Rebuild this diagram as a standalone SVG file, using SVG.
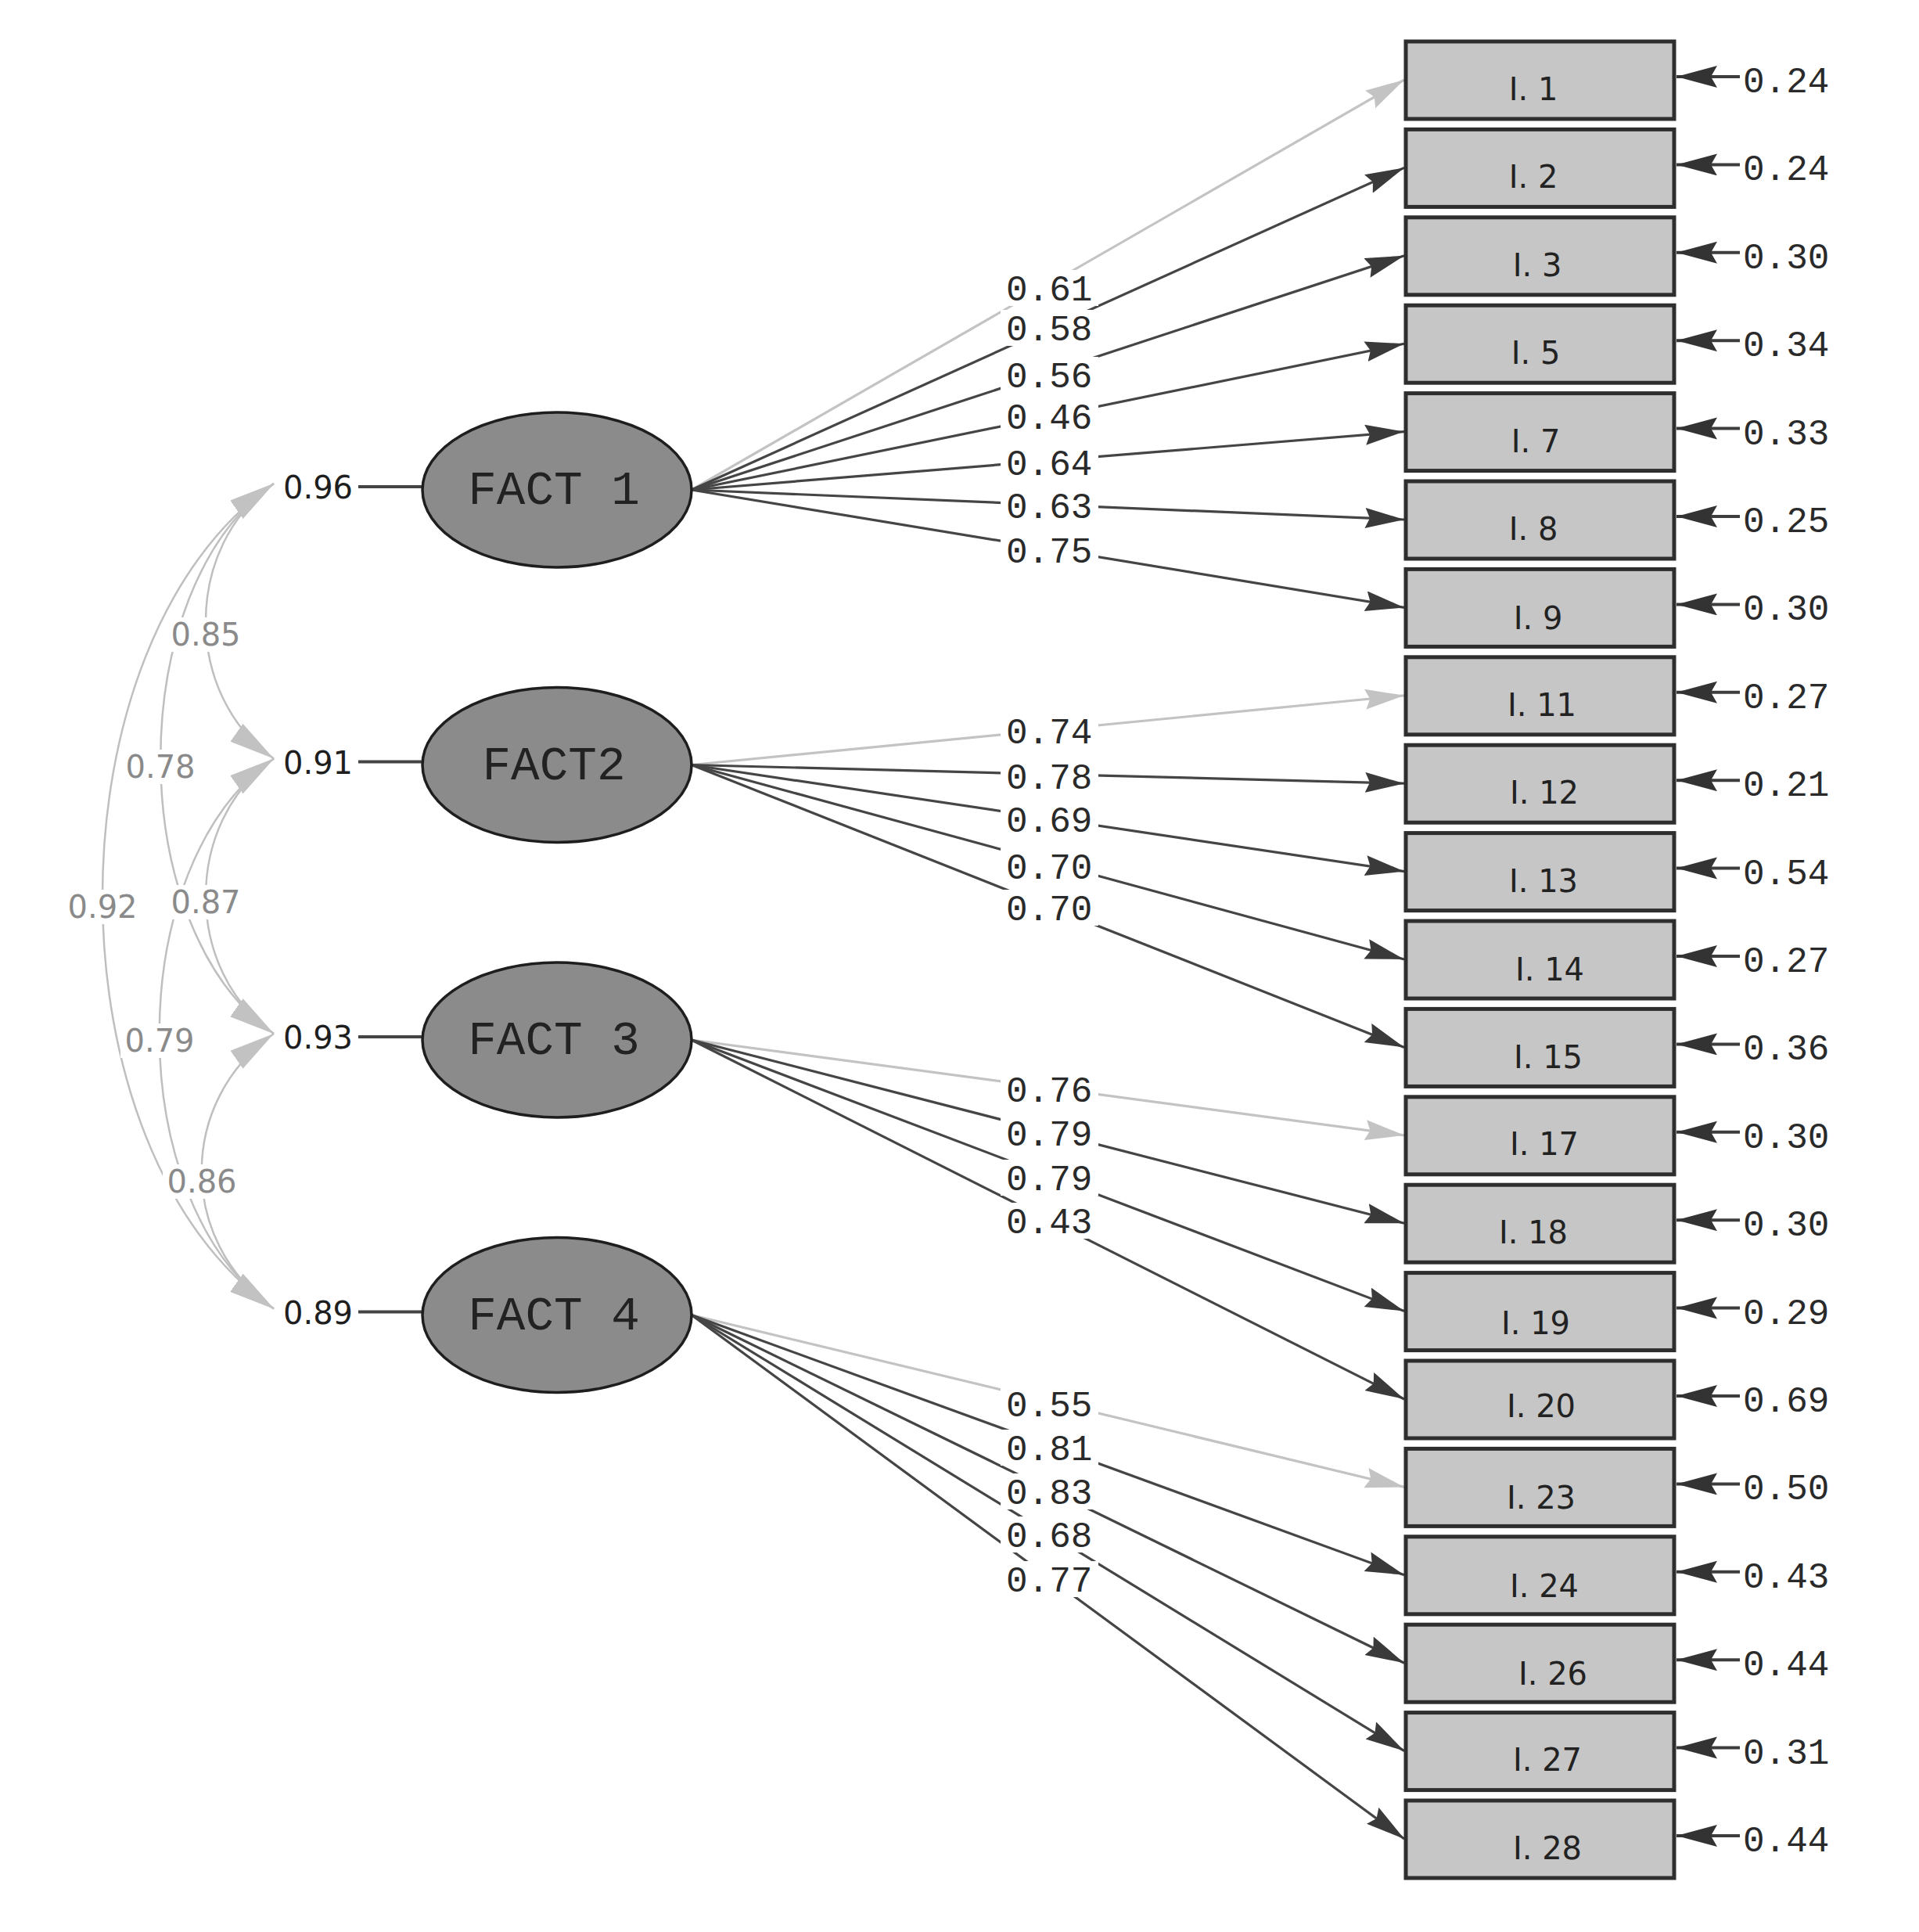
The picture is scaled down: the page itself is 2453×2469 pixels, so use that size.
<svg xmlns="http://www.w3.org/2000/svg" width="2453" height="2469" viewBox="0 0 2453 2469">
<style>
.lat{fill:#8b8b8b;stroke:#1e1e1e;stroke-width:3.5}
.obs{fill:#c6c6c6;stroke:#2e2e2e;stroke-width:5}
.ld{stroke:#454545;stroke-width:3.2;fill:none;marker-end:url(#ad)}
.lg{stroke:#c3c3c3;stroke-width:3.2;fill:none;marker-end:url(#ag)}
.cv{stroke:#bfbfbf;stroke-width:2.5;fill:none;marker-start:url(#ac);marker-end:url(#ac)}
.err{stroke:#3d3d3d;stroke-width:4;marker-end:url(#ae)}
.vl{stroke:#444;stroke-width:4}
.mask{fill:#fff}
.fact{font-family:"Courier New","Liberation Mono",monospace;font-size:61px;fill:#222;text-anchor:middle}
.item{font-family:"DejaVu Sans",Verdana,sans-serif;font-size:40px;fill:#222;text-anchor:middle}
.num{font-family:"Liberation Mono",monospace;font-size:46px;fill:#2a2a2a}
.var{font-family:"DejaVu Sans",Verdana,sans-serif;font-size:40px;fill:#1e1e1e}
.cor{font-family:"DejaVu Sans",Verdana,sans-serif;font-size:40px;fill:#8a8a8a;text-anchor:middle}
</style>
<defs>
<marker id="ad" markerUnits="userSpaceOnUse" markerWidth="52" markerHeight="28" refX="50" refY="13" orient="auto"><path d="M0,0 L50,13 L0,26 L6,13 Z" fill="#3a3a3a"/></marker>
<marker id="ag" markerUnits="userSpaceOnUse" markerWidth="52" markerHeight="28" refX="50" refY="13" orient="auto"><path d="M0,0 L50,13 L0,26 L6,13 Z" fill="#c3c3c3"/></marker>
<marker id="ae" markerUnits="userSpaceOnUse" markerWidth="54" markerHeight="30" refX="52" refY="14" orient="auto"><path d="M0,0 L52,14 L0,28 L8,14 Z" fill="#333"/></marker>
<marker id="ac" markerUnits="userSpaceOnUse" markerWidth="60" markerHeight="30" refX="58" refY="14" orient="auto-start-reverse"><path d="M0,0 L58,14 L0,28 Z" fill="#c2c2c2"/></marker>
</defs>
<rect width="2453" height="2469" fill="#fff"/>

<g id="connectors">
<!-- correlations -->
<path class="cv" d="M350,618 C234,699 234,888.5 350,969.5"/>
<path class="cv" d="M350,618 C157,753 157,1186 350,1321"/>
<path class="cv" d="M350,618 C58,822 58,1468.5 350,1672.5"/>
<path class="cv" d="M350,969.5 C234,1050.5 234,1240 350,1321"/>
<path class="cv" d="M350,969.5 C155,1105.5 155,1536.5 350,1672.5"/>
<path class="cv" d="M350,1321 C227,1407 227,1586.5 350,1672.5"/>
<!-- variance ticks -->
<line class="vl" x1="458" y1="622" x2="540" y2="622"/>
<line class="vl" x1="458" y1="973.5" x2="540" y2="973.5"/>
<line class="vl" x1="458" y1="1325" x2="540" y2="1325"/>
<line class="vl" x1="458" y1="1676.5" x2="540" y2="1676.5"/>
<!-- loadings FACT 1 -->
<line class="lg" x1="884" y1="626" x2="1795" y2="102"/>
<line class="ld" x1="884" y1="626" x2="1795" y2="214.4"/>
<line class="ld" x1="884" y1="626" x2="1795" y2="326.8"/>
<line class="ld" x1="884" y1="626" x2="1795" y2="439.2"/>
<line class="ld" x1="884" y1="626" x2="1795" y2="551.6"/>
<line class="ld" x1="884" y1="626" x2="1795" y2="664"/>
<line class="ld" x1="884" y1="626" x2="1795" y2="776.4"/>
<!-- loadings FACT2 -->
<line class="lg" x1="884" y1="977.5" x2="1795" y2="888.8"/>
<line class="ld" x1="884" y1="977.5" x2="1795" y2="1001.2"/>
<line class="ld" x1="884" y1="977.5" x2="1795" y2="1113.6"/>
<line class="ld" x1="884" y1="977.5" x2="1795" y2="1226"/>
<line class="ld" x1="884" y1="977.5" x2="1795" y2="1338.4"/>
<!-- loadings FACT 3 -->
<line class="lg" x1="884" y1="1329" x2="1795" y2="1450.8"/>
<line class="ld" x1="884" y1="1329" x2="1795" y2="1563.2"/>
<line class="ld" x1="884" y1="1329" x2="1795" y2="1675.6"/>
<line class="ld" x1="884" y1="1329" x2="1795" y2="1788"/>
<!-- loadings FACT 4 -->
<line class="lg" x1="884" y1="1680.5" x2="1795" y2="1900.4"/>
<line class="ld" x1="884" y1="1680.5" x2="1795" y2="2012.8"/>
<line class="ld" x1="884" y1="1680.5" x2="1795" y2="2125.2"/>
<line class="ld" x1="884" y1="1680.5" x2="1795" y2="2237.6"/>
<line class="ld" x1="884" y1="1680.5" x2="1795" y2="2350"/>
<!-- error arrows -->
<line class="err" x1="2224" y1="98" x2="2143" y2="98"/>
<line class="err" x1="2224" y1="210.4" x2="2143" y2="210.4"/>
<line class="err" x1="2224" y1="322.8" x2="2143" y2="322.8"/>
<line class="err" x1="2224" y1="435.2" x2="2143" y2="435.2"/>
<line class="err" x1="2224" y1="547.6" x2="2143" y2="547.6"/>
<line class="err" x1="2224" y1="660" x2="2143" y2="660"/>
<line class="err" x1="2224" y1="772.4" x2="2143" y2="772.4"/>
<line class="err" x1="2224" y1="884.8" x2="2143" y2="884.8"/>
<line class="err" x1="2224" y1="997.2" x2="2143" y2="997.2"/>
<line class="err" x1="2224" y1="1109.6" x2="2143" y2="1109.6"/>
<line class="err" x1="2224" y1="1222" x2="2143" y2="1222"/>
<line class="err" x1="2224" y1="1334.4" x2="2143" y2="1334.4"/>
<line class="err" x1="2224" y1="1446.8" x2="2143" y2="1446.8"/>
<line class="err" x1="2224" y1="1559.2" x2="2143" y2="1559.2"/>
<line class="err" x1="2224" y1="1671.6" x2="2143" y2="1671.6"/>
<line class="err" x1="2224" y1="1784" x2="2143" y2="1784"/>
<line class="err" x1="2224" y1="1896.4" x2="2143" y2="1896.4"/>
<line class="err" x1="2224" y1="2008.8" x2="2143" y2="2008.8"/>
<line class="err" x1="2224" y1="2121.2" x2="2143" y2="2121.2"/>
<line class="err" x1="2224" y1="2233.6" x2="2143" y2="2233.6"/>
<line class="err" x1="2224" y1="2346" x2="2143" y2="2346"/>
</g>

<g id="labels">
<!-- correlation labels -->
<rect class="mask" x="213" y="789" width="100" height="44"/><text class="cor" x="263" y="825">0.85</text>
<rect class="mask" x="155" y="958" width="100" height="44"/><text class="cor" x="205" y="994">0.78</text>
<rect class="mask" x="81" y="1137" width="100" height="44"/><text class="cor" x="131" y="1173">0.92</text>
<rect class="mask" x="213" y="1131" width="100" height="44"/><text class="cor" x="263" y="1167">0.87</text>
<rect class="mask" x="154" y="1308" width="100" height="44"/><text class="cor" x="204" y="1344">0.79</text>
<rect class="mask" x="208" y="1488" width="100" height="44"/><text class="cor" x="258" y="1524">0.86</text>
<!-- variances -->
<text class="var" x="362" y="637">0.96</text>
<text class="var" x="362" y="988.5">0.91</text>
<text class="var" x="362" y="1340">0.93</text>
<text class="var" x="362" y="1691.5">0.89</text>
<!-- loading labels -->
<rect class="mask" x="1279" y="345" width="125" height="46"/><text class="num" x="1286" y="384">0.61</text>
<rect class="mask" x="1279" y="396" width="125" height="46"/><text class="num" x="1286" y="435">0.58</text>
<rect class="mask" x="1279" y="456" width="125" height="46"/><text class="num" x="1286" y="495">0.56</text>
<rect class="mask" x="1279" y="509" width="125" height="46"/><text class="num" x="1286" y="548">0.46</text>
<rect class="mask" x="1279" y="568" width="125" height="46"/><text class="num" x="1286" y="607">0.64</text>
<rect class="mask" x="1279" y="623" width="125" height="46"/><text class="num" x="1286" y="662">0.63</text>
<rect class="mask" x="1279" y="680" width="125" height="46"/><text class="num" x="1286" y="719">0.75</text>
<rect class="mask" x="1279" y="911" width="125" height="46"/><text class="num" x="1286" y="950">0.74</text>
<rect class="mask" x="1279" y="969" width="125" height="46"/><text class="num" x="1286" y="1008">0.78</text>
<rect class="mask" x="1279" y="1024" width="125" height="46"/><text class="num" x="1286" y="1063">0.69</text>
<rect class="mask" x="1279" y="1084" width="125" height="46"/><text class="num" x="1286" y="1123">0.70</text>
<rect class="mask" x="1279" y="1137" width="125" height="46"/><text class="num" x="1286" y="1176">0.70</text>
<rect class="mask" x="1279" y="1369" width="125" height="46"/><text class="num" x="1286" y="1408">0.76</text>
<rect class="mask" x="1279" y="1425" width="125" height="46"/><text class="num" x="1286" y="1464">0.79</text>
<rect class="mask" x="1279" y="1482" width="125" height="46"/><text class="num" x="1286" y="1521">0.79</text>
<rect class="mask" x="1279" y="1537" width="125" height="46"/><text class="num" x="1286" y="1576">0.43</text>
<rect class="mask" x="1279" y="1771" width="125" height="46"/><text class="num" x="1286" y="1810">0.55</text>
<rect class="mask" x="1279" y="1827" width="125" height="46"/><text class="num" x="1286" y="1866">0.81</text>
<rect class="mask" x="1279" y="1883" width="125" height="46"/><text class="num" x="1286" y="1922">0.83</text>
<rect class="mask" x="1279" y="1938" width="125" height="46"/><text class="num" x="1286" y="1977">0.68</text>
<rect class="mask" x="1279" y="1995" width="125" height="46"/><text class="num" x="1286" y="2034">0.77</text>
<!-- error labels -->
<text class="num" x="2228" y="118">0.24</text>
<text class="num" x="2228" y="230.4">0.24</text>
<text class="num" x="2228" y="342.8">0.30</text>
<text class="num" x="2228" y="455.2">0.34</text>
<text class="num" x="2228" y="567.6">0.33</text>
<text class="num" x="2228" y="680">0.25</text>
<text class="num" x="2228" y="792.4">0.30</text>
<text class="num" x="2228" y="904.8">0.27</text>
<text class="num" x="2228" y="1017.2">0.21</text>
<text class="num" x="2228" y="1129.6">0.54</text>
<text class="num" x="2228" y="1242">0.27</text>
<text class="num" x="2228" y="1354.4">0.36</text>
<text class="num" x="2228" y="1466.8">0.30</text>
<text class="num" x="2228" y="1579.2">0.30</text>
<text class="num" x="2228" y="1691.6">0.29</text>
<text class="num" x="2228" y="1804">0.69</text>
<text class="num" x="2228" y="1916.4">0.50</text>
<text class="num" x="2228" y="2028.8">0.43</text>
<text class="num" x="2228" y="2141.2">0.44</text>
<text class="num" x="2228" y="2253.6">0.31</text>
<text class="num" x="2228" y="2366">0.44</text>
</g>

<g id="fact1"><ellipse class="lat" cx="712" cy="626" rx="172" ry="99"/><text class="fact" x="708" y="644">FACT 1</text></g>
<g id="fact2"><ellipse class="lat" cx="712" cy="977.5" rx="172" ry="99"/><text class="fact" x="708" y="995.5">FACT2</text></g>
<g id="fact3"><ellipse class="lat" cx="712" cy="1329" rx="172" ry="99"/><text class="fact" x="708" y="1347">FACT 3</text></g>
<g id="fact4"><ellipse class="lat" cx="712" cy="1680.5" rx="172" ry="99"/><text class="fact" x="708" y="1698.5">FACT 4</text></g>

<g id="i1"><rect class="obs" x="1797" y="53" width="343" height="99"/><text class="item" x="1960" y="128">I. 1</text></g>
<g id="i2"><rect class="obs" x="1797" y="165.4" width="343" height="99"/><text class="item" x="1960" y="240.4">I. 2</text></g>
<g id="i3"><rect class="obs" x="1797" y="277.8" width="343" height="99"/><text class="item" x="1965" y="352.8">I. 3</text></g>
<g id="i5"><rect class="obs" x="1797" y="390.2" width="343" height="99"/><text class="item" x="1963" y="465.2">I. 5</text></g>
<g id="i7"><rect class="obs" x="1797" y="502.6" width="343" height="99"/><text class="item" x="1963" y="577.6">I. 7</text></g>
<g id="i8"><rect class="obs" x="1797" y="615" width="343" height="99"/><text class="item" x="1960" y="690">I. 8</text></g>
<g id="i9"><rect class="obs" x="1797" y="727.4" width="343" height="99"/><text class="item" x="1966" y="804.4">I. 9</text></g>
<g id="i11"><rect class="obs" x="1797" y="839.8" width="343" height="99"/><text class="item" x="1971" y="914.8">I. 11</text></g>
<g id="i12"><rect class="obs" x="1797" y="952.2" width="343" height="99"/><text class="item" x="1974" y="1027.2">I. 12</text></g>
<g id="i13"><rect class="obs" x="1797" y="1064.6" width="343" height="99"/><text class="item" x="1973" y="1139.6">I. 13</text></g>
<g id="i14"><rect class="obs" x="1797" y="1177" width="343" height="99"/><text class="item" x="1981" y="1253">I. 14</text></g>
<g id="i15"><rect class="obs" x="1797" y="1289.4" width="343" height="99"/><text class="item" x="1979" y="1365.4">I. 15</text></g>
<g id="i17"><rect class="obs" x="1797" y="1401.8" width="343" height="99"/><text class="item" x="1974" y="1475.8">I. 17</text></g>
<g id="i18"><rect class="obs" x="1797" y="1514.2" width="343" height="99"/><text class="item" x="1960" y="1589.2">I. 18</text></g>
<g id="i19"><rect class="obs" x="1797" y="1626.6" width="343" height="99"/><text class="item" x="1963" y="1704.6">I. 19</text></g>
<g id="i20"><rect class="obs" x="1797" y="1739" width="343" height="99"/><text class="item" x="1970" y="1811">I. 20</text></g>
<g id="i23"><rect class="obs" x="1797" y="1851.4" width="343" height="99"/><text class="item" x="1970" y="1928.4">I. 23</text></g>
<g id="i24"><rect class="obs" x="1797" y="1963.8" width="343" height="99"/><text class="item" x="1974" y="2040.8">I. 24</text></g>
<g id="i26"><rect class="obs" x="1797" y="2076.2" width="343" height="99"/><text class="item" x="1985" y="2153.2">I. 26</text></g>
<g id="i27"><rect class="obs" x="1797" y="2188.6" width="343" height="99"/><text class="item" x="1978" y="2262.6">I. 27</text></g>
<g id="i28"><rect class="obs" x="1797" y="2301" width="343" height="99"/><text class="item" x="1978" y="2376">I. 28</text></g>
</svg>
